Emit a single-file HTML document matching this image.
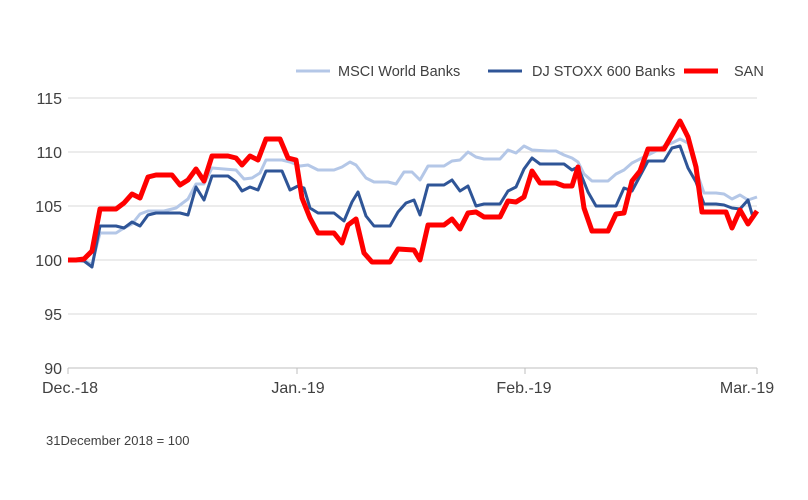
<!DOCTYPE html>
<html><head><style>body{margin:0;background:#fff}svg{display:block;font-family:"Liberation Sans",sans-serif}</style></head><body>
<svg width="808" height="500" viewBox="0 0 808 500">
<g stroke="#d9d9d9" stroke-width="1">
<line x1="68" x2="757" y1="98" y2="98"/><line x1="68" x2="757" y1="152" y2="152"/><line x1="68" x2="757" y1="206" y2="206"/><line x1="68" x2="757" y1="260" y2="260"/><line x1="68" x2="757" y1="314" y2="314"/>
</g>
<g stroke="#bfbfbf" stroke-width="1"><line x1="68" x2="757" y1="368" y2="368"/><line x1="68" x2="68" y1="368" y2="374"/><line x1="297" x2="297" y1="368" y2="374"/><line x1="525" x2="525" y1="368" y2="374"/><line x1="757" x2="757" y1="368" y2="374"/></g>
<g fill="#404040" font-size="16" text-anchor="end">
<text x="62" y="104">115</text><text x="62" y="158">110</text><text x="62" y="212">105</text><text x="62" y="266">100</text><text x="62" y="320">95</text><text x="62" y="374">90</text></g>
<g fill="#404040" font-size="16" text-anchor="middle">
<text x="70" y="393">Dec.-18</text><text x="298" y="393">Jan.-19</text><text x="524" y="393">Feb.-19</text><text x="747" y="393">Mar.-19</text></g>
<text x="46" y="445" font-size="13" fill="#404040">31December 2018 = 100</text>
<g font-size="14.5" fill="#404040">
<line x1="296" x2="330" y1="71" y2="71" stroke="#b4c7e7" stroke-width="3"/><text x="338" y="76">MSCI World Banks</text>
<line x1="488" x2="522" y1="71" y2="71" stroke="#2f5597" stroke-width="3"/><text x="532" y="76">DJ STOXX 600 Banks</text>
<line x1="684" x2="718" y1="71" y2="71" stroke="#ff0000" stroke-width="5"/><text x="734" y="76">SAN</text></g>
<g fill="none" stroke-linejoin="round">
<polyline stroke="#b4c7e7" stroke-width="3" points="68,260 84,261 92,264 100,233 116,233 124,228 132,224 140,214 148,211 164,211 176,208 188,199 196,184 204,184 212,168 236,170 244,179 252,178 260,173 266,160 282,160 290,162 300,166 308,165 318,170 334,170 342,167 350,162 356,165 366,178 374,182 388,182 396,184 404,172 412,172 420,180 428,166 444,166 452,161 460,160 468,152 476,157 484,159 500,159 508,150 516,153 524,146 532,150 548,151 556,151 564,155 572,158 578,162 584,174 592,181 608,181 616,174 624,170 632,163 640,159 648,155 656,151 664,146 672,143 680,139 688,143 696,170 704,193 716,193 724,194 732,199 740,195 748,200 757,197"/>
<polyline stroke="#2f5597" stroke-width="3" points="68,260 84,261 92,267 100,226 116,226 124,228 132,222 140,226 148,215 156,213 180,213 188,215 196,187 204,200 212,176 228,176 236,182 242,191 250,187 258,190 266,171 282,171 290,190 298,186 304,188 310,208 318,213 334,213 344,221 352,202 358,192 366,216 374,226 390,226 398,212 406,203 414,200 420,215 428,185 444,185 452,180 460,191 468,186 476,206 484,204 500,204 508,191 516,187 524,169 532,158 540,164 564,164 572,170 578,167 588,192 596,206 616,206 624,188 632,191 640,176 648,161 664,161 672,148 680,146 688,168 696,182 704,204 716,204 724,205 732,208 740,209 748,200 752,214 757,212"/>
<polyline stroke="#ff0000" stroke-width="5" points="68,260 76,260 84,259 92,251 100,209 116,209 124,203 132,194 140,198 148,177 156,175 172,175 180,185 188,180 196,169 204,181 212,156 228,156 236,158 242,165 250,156 258,160 266,139 280,139 288,158 296,160 302,198 310,218 318,233 334,233 342,243 348,225 356,219 364,253 372,262 390,262 398,249 414,250 420,260 428,225 444,225 452,219 460,229 468,213 476,212 484,217 500,217 508,201 516,202 524,197 532,171 540,183 556,183 564,186 572,186 578,167 584,208 592,231 608,231 616,214 624,213 632,181 640,171 648,149 664,149 672,135 680,121 688,137 696,167 702,212 726,212 732,228 740,210 748,224 757,211"/>
</g>
</svg>
</body></html>
